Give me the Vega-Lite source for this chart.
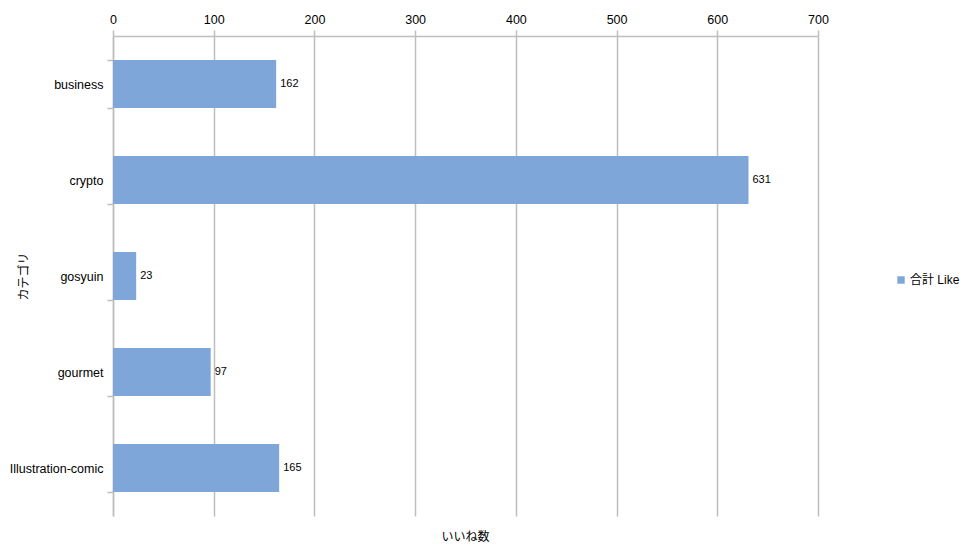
{
  "$schema": "https://vega.github.io/schema/vega-lite/v6.json",
  "width": 705,
  "height": 480,
  "autosize": {"type": "none"},
  "padding": {"left": 113, "top": 36, "right": 148, "bottom": 39},
  "background": "white",
  "title": {"text": "いいね数", "orient": "bottom", "offset": 16, "fontSize": 12, "fontWeight": "normal", "font": "Liberation Sans, Noto Sans CJK JP", "color": "#000000"},
  "data": {
    "values": [
      {"category": "business", "likes": 162, "series": "合計 Like"},
      {"category": "crypto", "likes": 631, "series": "合計 Like"},
      {"category": "gosyuin", "likes": 23, "series": "合計 Like"},
      {"category": "gourmet", "likes": 97, "series": "合計 Like"},
      {"category": "Illustration-comic", "likes": 165, "series": "合計 Like"}
    ]
  },
  "encoding": {
    "y": {
      "field": "category",
      "type": "nominal",
      "sort": null,
      "scale": {"paddingInner": 0.5, "paddingOuter": 0.25},
      "axis": {
        "title": "カテゴリ",
        "titleFontSize": 12,
        "titleFontWeight": "normal",
        "titleColor": "#000000",
        "titleFont": "Liberation Sans, Noto Sans CJK JP",
        "titleX": -83,
        "titleBaseline": "bottom",
        "labelFont": "Liberation Sans",
        "labelFontSize": 12.5,
        "labelColor": "#000000",
        "labelPadding": 4,
        "tickBand": "extent",
        "tickSize": 6,
        "tickColor": "#bebebe",
        "tickWidth": 1.5,
        "domainColor": "#bebebe",
        "domainWidth": 1.5,
        "grid": false
      }
    },
    "x": {
      "field": "likes",
      "type": "quantitative",
      "scale": {"domain": [0, 700], "nice": false},
      "axis": {
        "orient": "top",
        "title": null,
        "values": [0, 100, 200, 300, 400, 500, 600, 700],
        "grid": true,
        "gridColor": "#bebebe",
        "gridWidth": 1.5,
        "tickSize": 6,
        "tickColor": "#bebebe",
        "tickWidth": 1.5,
        "domainColor": "#bebebe",
        "domainWidth": 1.5,
        "labelFont": "Liberation Sans",
        "labelFontSize": 12.5,
        "labelColor": "#000000",
        "labelPadding": 4,
        "labelFlush": false
      }
    }
  },
  "layer": [
    {
      "mark": {"type": "bar"},
      "encoding": {
        "color": {
          "field": "series",
          "type": "nominal",
          "scale": {"range": ["#7EA6D8"]},
          "legend": {
            "title": null,
            "orient": "none",
            "legendX": 782,
            "legendY": 238,
            "symbolType": "square",
            "symbolSize": 55,
            "labelFont": "Liberation Sans, Noto Sans CJK JP",
            "labelFontSize": 12,
            "labelColor": "#000000",
            "labelOffset": 3
          }
        }
      }
    },
    {
      "mark": {"type": "text", "align": "left", "baseline": "middle", "dx": 4, "font": "Liberation Sans", "fontSize": 11, "color": "#000000"},
      "encoding": {
        "text": {"field": "likes", "type": "quantitative"}
      }
    }
  ],
  "config": {"view": {"stroke": null}}
}
